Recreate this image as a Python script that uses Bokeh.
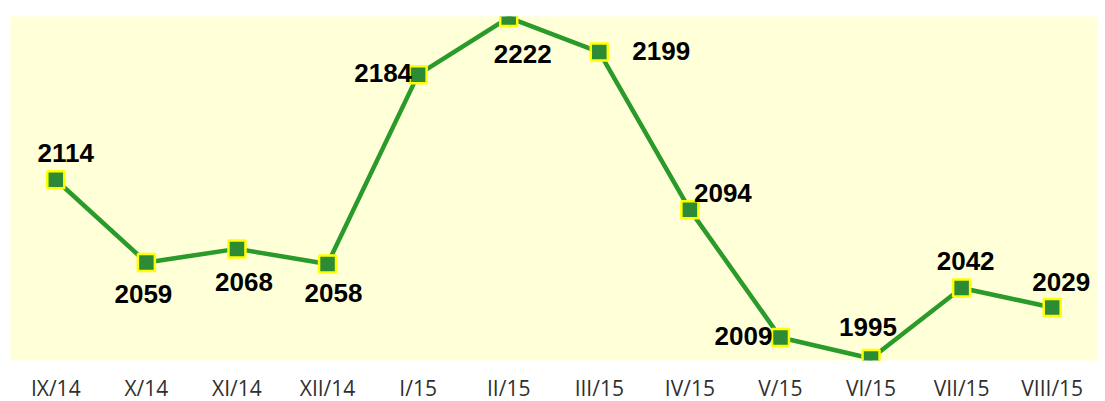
from bokeh.plotting import figure
from bokeh.models import ColumnDataSource, FactorRange, Range1d
from bokeh.embed import file_html
from bokeh.resources import INLINE
from bokeh.core.properties import value

months = ["IX/14", "X/14", "XI/14", "XII/14", "I/15", "II/15", "III/15",
          "IV/15", "V/15", "VI/15", "VII/15", "VIII/15"]
values = [2114, 2059, 2068, 2058, 2184, 2222, 2199, 2094, 2009, 1995, 2042, 2029]

# label placement (screen-pixel offsets of each value label from its point)
label_dx = [10, -3, 7, 6, -35, 14, 62, 33, -37, -3, 4, 9]
label_dy = [-27, 32, 33, 29, -2, 36, -1, -17, -2, -32, -27, -25]

src = ColumnDataSource(dict(
    m=months, v=values, t=[str(v) for v in values], dx=label_dx, dy=label_dy))

p = figure(x_range=FactorRange(*months, range_padding=0),
           y_range=Range1d(1993.7, 2222.7),
           frame_width=1087, frame_height=344,
           min_border_left=10, min_border_right=0, min_border_top=16, min_border_bottom=8,
           output_backend="svg", toolbar_location=None, y_axis_location=None)

p.background_fill_color = "#FFFFD8"
p.border_fill_color = "white"
p.outline_line_color = None
p.xgrid.visible = False
p.ygrid.visible = False

ax = p.xaxis[0]
ax.axis_line_color = None
ax.major_tick_line_color = None
ax.minor_tick_line_color = None
ax.major_label_standoff = 7
ax.major_label_text_font = "Open Sans"
ax.major_label_text_font_size = "21px"
ax.major_label_text_color = "#2F2F2F"

p.line("m", "v", source=src, line_color="#2A9A2A", line_width=4.5)
p.scatter("m", "v", source=src, marker="square", size=17,
          fill_color="#2E8B35", line_color="#FFFF00", line_width=2.5)
p.text("m", "v", text="t", source=src, x_offset="dx", y_offset="dy",
       text_align="center", text_baseline="middle",
       text_font=value("Liberation Sans"), text_font_style="bold",
       text_font_size="26px", text_color="black")

open("out.html", "w").write(file_html(p, INLINE))
